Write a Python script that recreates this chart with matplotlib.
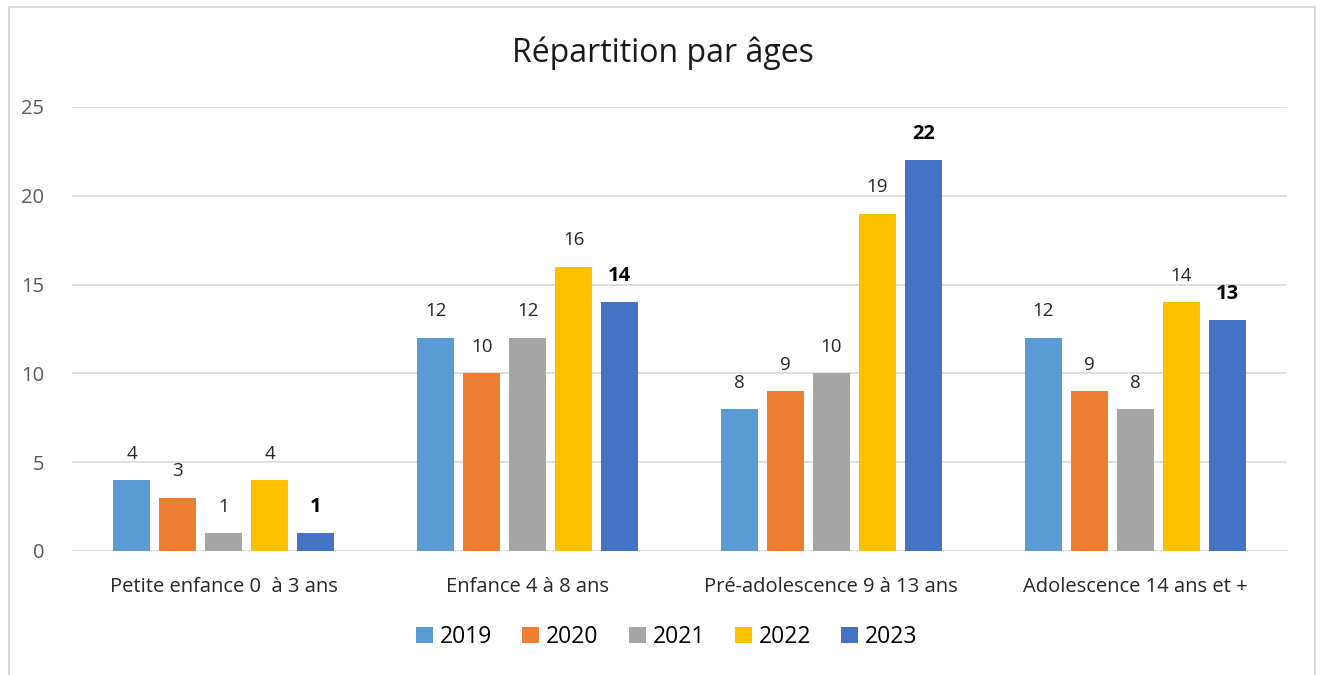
import matplotlib
matplotlib.use("Agg")
import matplotlib.pyplot as plt
from matplotlib.patches import Rectangle
import numpy as np

categories = ["Petite enfance 0  à 3 ans", "Enfance 4 à 8 ans",
              "Pré-adolescence 9 à 13 ans", "Adolescence 14 ans et +"]
years = ["2019", "2020", "2021", "2022", "2023"]
v2019 = [4, 12, 8, 12]
v2020 = [3, 10, 9, 9]
v2021 = [1, 12, 10, 8]
v2022 = [4, 16, 19, 14]
v2023 = [1, 14, 22, 13]
series = [v2019, v2020, v2021, v2022, v2023]
colors = ["#5B9BD5", "#ED7D31", "#A5A5A5", "#FFC000", "#4472C4"]
yticks = [0, 5, 10, 15, 20, 25]

plt.rcParams['font.family'] = ['Open Sans', 'DejaVu Sans']

W, H = 1321, 675
fig = plt.figure(figsize=(W / 100, H / 100), dpi=100)
ax = fig.add_axes([72 / W, 1 - 551 / H, (1287 - 72) / W, (551 - 107) / H])

# outer frame
fig.patches.append(Rectangle((9 / W, -0.1), (1315 - 9) / W, 1.1 - 7 / H,
                             transform=fig.transFigure, fill=False,
                             edgecolor="#D9D9D9", linewidth=1.5))

x = np.arange(len(categories))
bw = 37 / 303.75
step = 46 / 303.75
for i, (vals, c, yr) in enumerate(zip(series, colors, years)):
    pos = x + (i - 2) * step
    bars = ax.bar(pos, vals, width=bw, color=c, label=yr, zorder=3)
    for b, v in zip(bars, vals):
        ax.annotate(str(v), (b.get_x() + b.get_width() / 2, v),
                    xytext=(0, 19), textcoords="offset points",
                    ha="center", va="center",
                    fontsize=14.5 if i == 4 else 13.5,
                    color="#000000" if i == 4 else "#262626",
                    fontweight="bold" if i == 4 else "normal")

ax.set_xlim(-0.5, 3.5)
ax.set_ylim(0, 25)
ax.set_yticks(yticks)
ax.yaxis.grid(True, color="#D9D9D9", linewidth=1.2, zorder=0)
ax.set_axisbelow(True)
for s in ax.spines.values():
    s.set_visible(False)
ax.tick_params(axis="y", length=0, labelsize=14.5, labelcolor="#595959", pad=20)
ax.tick_params(axis="x", length=0, labelsize=14.5, labelcolor="#262626", pad=19)
ax.set_xticks(x)
ax.set_xticklabels(categories)

fig.text(663 / W, 1 - 53 / H, "Répartition par âges", ha="center", va="center",
         fontsize=23, color="#1a1a1a")

leg = fig.legend(loc="center", bbox_to_anchor=(667 / W, 1 - 637 / H), ncol=5,
                 frameon=False, fontsize=16.5, handlelength=0.75, handleheight=0.75,
                 handletextpad=0.3, columnspacing=1.3)

fig.savefig("out.png", dpi=100)
